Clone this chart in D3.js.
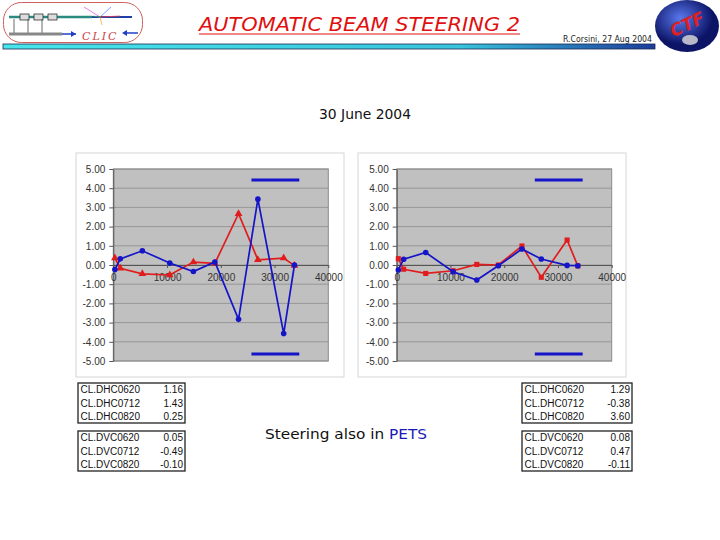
<!DOCTYPE html>
<html>
<head>
<meta charset="utf-8">
<script src="https://cdn.jsdelivr.net/npm/d3@7"></script>
<style>body{margin:0;background:#fff}</style>
</head>
<body>
<div id="chart"></div>
<script>
// BPM positions along the line and corrector readings
const xPos = [300, 1300, 5400, 10500, 14900, 18900, 23300, 26900, 31700, 33700];
const leftBlue = [-0.24, 0.32, 0.74, 0.10, -0.34, 0.16, -2.83, 3.43, -3.57, 0.00];
const leftRed = [0.36, -0.17, -0.46, -0.52, 0.15, 0.09, 2.67, 0.27, 0.36, -0.03];
const rightBlue = [-0.26, 0.30, 0.65, -0.35, -0.78, -0.04, 0.83, 0.31, -0.02, -0.04];
const rightRed = [0.33, -0.22, -0.44, -0.30, 0.03, 0.00, 0.99, -0.64, 1.30, -0.05];
const limitX = [25700, 34600];
const limitY = [4.43, -4.64];
const yTicks = [-5, -4, -3, -2, -1, 0, 1, 2, 3, 4, 5];
const xTicks = [0, 10000, 20000, 30000, 40000];

const hcNames = ["CL.DHC0620", "CL.DHC0712", "CL.DHC0820"];
const vcNames = ["CL.DVC0620", "CL.DVC0712", "CL.DVC0820"];
const leftHC = [1.16, 1.43, 0.25];
const leftVC = [0.05, -0.49, -0.10];
const rightHC = [1.29, -0.38, 3.60];
const rightVC = [0.08, 0.47, -0.11];

const width = 720, height = 540;
const blueCol = '#1414c8', redCol = '#e01c1c';

const svg = d3.select('#chart').append('svg')
  .attr('width', width).attr('height', height);

const defs = svg.append('defs');
const grad = defs.append('linearGradient').attr('id', 'bar');
grad.append('stop').attr('offset', '0%').attr('stop-color', '#48e6ea');
grad.append('stop').attr('offset', '70%').attr('stop-color', '#38c4dc');
grad.append('stop').attr('offset', '100%').attr('stop-color', '#1c3c9c');
const rg = defs.append('radialGradient').attr('id', 'ball').attr('cx', '40%').attr('cy', '35%');
rg.append('stop').attr('offset', '0%').attr('stop-color', '#5a78ee');
rg.append('stop').attr('offset', '100%').attr('stop-color', '#0c1466');

// header: CLIC logo
const logo = svg.append('g');
logo.append('rect').attr('x', 3.5).attr('y', 2.5).attr('width', 139).attr('height', 40)
  .attr('rx', 18).attr('fill', '#fff').attr('stroke', '#d06060');
logo.append('line').attr('x1', 9).attr('x2', 92).attr('y1', 17).attr('y2', 17)
  .attr('stroke', '#2a8a80').attr('stroke-width', 2.5);
logo.append('line').attr('x1', 92).attr('x2', 132).attr('y1', 17).attr('y2', 17)
  .attr('stroke', '#2040a8').attr('stroke-width', 2);
[20, 34, 48].forEach(cx => {
  logo.append('rect').attr('x', cx).attr('y', 14).attr('width', 9).attr('height', 6)
    .attr('fill', '#ddd').attr('stroke', '#333').attr('stroke-width', 0.8);
});
[14, 28, 42].forEach(cx => {
  logo.append('line').attr('x1', cx).attr('x2', cx).attr('y1', 19).attr('y2', 33)
    .attr('stroke', '#444').attr('stroke-width', 0.8);
});
logo.append('line').attr('x1', 9).attr('x2', 62).attr('y1', 34).attr('y2', 34)
  .attr('stroke', '#888').attr('stroke-width', 3);
logo.append('line').attr('x1', 62).attr('x2', 76).attr('y1', 34).attr('y2', 34)
  .attr('stroke', '#2040c0').attr('stroke-width', 1.5);
logo.append('path').attr('d', 'M76,34 l-5,-3 l0,6 z').attr('fill', '#2040c0');
logo.append('line').attr('x1', 138).attr('x2', 126).attr('y1', 33).attr('y2', 33)
  .attr('stroke', '#2040c0').attr('stroke-width', 1.5);
logo.append('path').attr('d', 'M122,33 l5,-3 l0,6 z').attr('fill', '#2040c0');
['#e040e0', '#40c040', '#f0a020', '#4080ff', '#ff4040'].forEach((c, i) => {
  logo.append('line').attr('x1', 100).attr('y1', 17)
    .attr('x2', 84 + i * 9).attr('y2', 7 + (i % 3) * 9)
    .attr('stroke', c).attr('stroke-width', 0.7);
});
logo.append('text').attr('x', 82).attr('y', 40).attr('font-family', 'DejaVu Serif')
  .attr('font-style', 'italic').attr('font-size', 11).attr('letter-spacing', 2)
  .attr('fill', '#c84848').text('CLIC');

// title
svg.append('text').attr('x', 199).attr('y', 31)
  .attr('font-family', 'DejaVu Sans').attr('font-style', 'italic').attr('font-size', 19)
  .attr('fill', '#e01010').attr('textLength', 321).attr('lengthAdjust', 'spacingAndGlyphs')
  .text('AUTOMATIC BEAM STEERING 2');
svg.append('line').attr('x1', 199).attr('x2', 520).attr('y1', 34).attr('y2', 34)
  .attr('stroke', '#e01010').attr('stroke-width', 1.2);

svg.append('text').attr('x', 563).attr('y', 42)
  .attr('font-family', 'DejaVu Sans Condensed').attr('font-size', 8).attr('fill', '#222')
  .attr('textLength', 89).attr('lengthAdjust', 'spacingAndGlyphs')
  .text('R.Corsini, 27 Aug 2004');

svg.append('rect').attr('x', 3).attr('y', 44).attr('width', 652).attr('height', 5)
  .attr('fill', 'url(#bar)').attr('stroke', '#1a2a50').attr('stroke-width', 0.8);

// CTF3 logo
const ctf = svg.append('g');
ctf.append('ellipse').attr('cx', 687).attr('cy', 26).attr('rx', 32).attr('ry', 26)
  .attr('fill', 'url(#ball)');
ctf.append('ellipse').attr('cx', 690).attr('cy', 40).attr('rx', 8).attr('ry', 5)
  .attr('fill', '#b8b8c8');
ctf.append('text').attr('x', 688).attr('y', 30).attr('text-anchor', 'middle')
  .attr('transform', 'rotate(-25,688,26)')
  .attr('font-family', 'DejaVu Sans').attr('font-weight', 'bold').attr('font-style', 'italic')
  .attr('font-size', 17).attr('fill', '#e02020').text('CTF');

svg.append('text').attr('x', 365).attr('y', 119).attr('text-anchor', 'middle')
  .attr('font-family', 'DejaVu Sans').attr('font-size', 14).attr('fill', '#111')
  .attr('textLength', 92).attr('lengthAdjust', 'spacingAndGlyphs')
  .text('30 June 2004');

const pets = svg.append('text').attr('x', 265).attr('y', 439)
  .attr('font-family', 'DejaVu Sans').attr('font-size', 14.5).attr('fill', '#111')
  .attr('textLength', 162).attr('lengthAdjust', 'spacingAndGlyphs');
pets.append('tspan').text('Steering also in ');
pets.append('tspan').attr('fill', '#1a1ab4').text('PETS');

function drawChart(frameX, plotX, blue, red, redSymbol) {
  const g = svg.append('g');
  const x = d3.scaleLinear().domain([0, 40000]).range([plotX, plotX + 215]);
  const y = d3.scaleLinear().domain([-5, 5]).range([361, 169]);

  g.append('rect').attr('x', frameX).attr('y', 153).attr('width', 268).attr('height', 224)
    .attr('fill', '#fff').attr('stroke', '#d6d6d6');
  g.append('rect').attr('x', x(0)).attr('y', y(5))
    .attr('width', x(40000) - x(0)).attr('height', y(-5) - y(5))
    .attr('fill', '#c0c0c0').attr('stroke', '#8c8c8c');

  g.append('g').selectAll('line').data(yTicks).join('line')
    .attr('x1', x(0)).attr('x2', x(40000))
    .attr('y1', d => y(d)).attr('y2', d => y(d))
    .attr('stroke', '#8c8c8c').attr('stroke-width', 0.8);

  const fmt = d => d.toFixed(2);
  g.append('g').attr('transform', `translate(${x(0)},0)`)
    .call(d3.axisLeft(y).tickValues(yTicks).tickFormat(fmt).tickSize(4).tickPadding(4).tickSizeOuter(0))
    .call(a => a.selectAll('line,path').attr('stroke', '#555'))
    .call(a => a.selectAll('text').attr('fill', '#333')
      .attr('font-family', 'Liberation Sans').attr('font-size', 10));

  g.append('g').attr('transform', `translate(0,${y(0)})`)
    .call(d3.axisBottom(x).tickValues(xTicks).tickFormat(d => d).tickSize(3).tickPadding(6).tickSizeOuter(0))
    .call(a => a.selectAll('line,path').attr('stroke', '#555'))
    .call(a => a.selectAll('text').attr('fill', '#333')
      .attr('font-family', 'Liberation Sans').attr('font-size', 10));

  g.append('g').selectAll('line').data(limitY).join('line')
    .attr('x1', x(limitX[0])).attr('x2', x(limitX[1]))
    .attr('y1', d => y(d)).attr('y2', d => y(d))
    .attr('stroke', blueCol).attr('stroke-width', 3);

  const line = d3.line().x((d, i) => x(xPos[i])).y(d => y(d));

  g.append('path').datum(red).attr('d', line)
    .attr('fill', 'none').attr('stroke', redCol).attr('stroke-width', 1.7);
  g.append('g').selectAll('path').data(red).join('path')
    .attr('transform', (d, i) => `translate(${x(xPos[i])},${y(d)})`)
    .attr('d', d3.symbol().type(redSymbol).size(26))
    .attr('fill', redCol);

  g.append('path').datum(blue).attr('d', line)
    .attr('fill', 'none').attr('stroke', blueCol).attr('stroke-width', 1.7);
  g.append('g').selectAll('circle').data(blue).join('circle')
    .attr('cx', (d, i) => x(xPos[i])).attr('cy', d => y(d)).attr('r', 2.8)
    .attr('fill', blueCol);
}

function drawTable(left, right, top, names, values) {
  const rows = d3.scaleBand().domain(names).range([top, top + 40]);
  const g = svg.append('g');
  g.append('rect').attr('x', left).attr('y', top).attr('width', right - left).attr('height', 40)
    .attr('fill', '#fff').attr('stroke', '#222').attr('stroke-width', 1.3);
  g.selectAll('text.n').data(names).join('text')
    .attr('x', left + 2.5).attr('y', d => rows(d) + rows.bandwidth() / 2 + 3.6)
    .attr('font-family', 'Liberation Sans').attr('font-size', 10).attr('fill', '#111')
    .text(d => d);
  g.selectAll('text.v').data(values).join('text')
    .attr('x', right - 2).attr('y', (d, i) => rows(names[i]) + rows.bandwidth() / 2 + 3.6)
    .attr('text-anchor', 'end')
    .attr('font-family', 'Liberation Sans').attr('font-size', 10).attr('fill', '#111')
    .text(d => d.toFixed(2));
}

drawChart(76, 113.3, leftBlue, leftRed, d3.symbolTriangle);
drawChart(358, 396.7, rightBlue, rightRed, d3.symbolSquare);

drawTable(78, 185, 383, hcNames, leftHC);
drawTable(78, 185, 431, vcNames, leftVC);
drawTable(522, 632, 383, hcNames, rightHC);
drawTable(522, 632, 431, vcNames, rightVC);
</script>
</body>
</html>
